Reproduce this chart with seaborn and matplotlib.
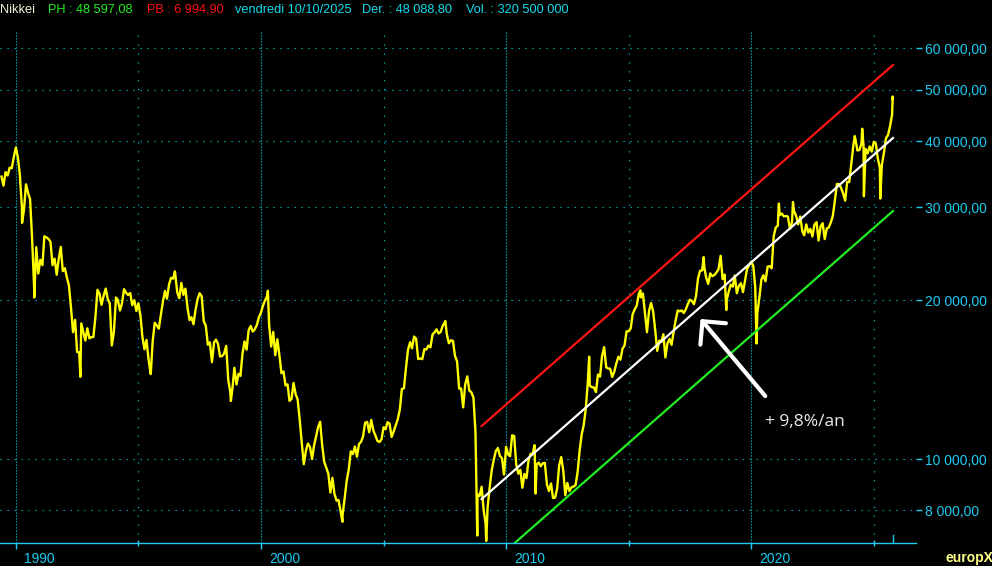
import matplotlib.pyplot as plt
from matplotlib.ticker import FixedLocator, NullLocator
from matplotlib.transforms import ScaledTranslation
import numpy as np
import pandas as pd
import seaborn as sns

# %% data: Nikkei monthly closes, May 1989 -> Sep 2025
close_1989_1999 = [
    34270, 32950, 34950, 34430, 35640, 35550, 37270, 38916,                         # 1989 May-Dec
    37190, 34590, 29980, 29585, 33130, 31940, 31036, 25978, 20984, 25194, 22455, 23849,  # 1990
    23293, 26409, 26292, 26111, 25790, 23291, 23961, 22336, 23916, 25222, 22688, 22984,  # 1991
    22023, 21339, 19346, 17391, 18348, 15952, 15910, 18061, 17399, 16767, 17684, 16925,  # 1992
    17024, 17023, 18591, 20919, 20552, 19591, 20380, 21027, 20106, 19703, 16408, 17417,  # 1993
    20229, 19997, 19112, 19725, 20974, 20644, 20449, 20629, 19564, 19990, 19077, 19723,  # 1994
    18650, 17053, 16140, 16807, 15437, 14518, 16678, 18117, 17913, 17655, 18744, 19868,  # 1995
    20813, 20125, 21407, 22042, 21956, 22531, 20693, 20167, 21556, 20467, 21020, 19361,  # 1996
    18330, 18557, 18003, 19151, 20069, 20605, 20331, 18229, 17888, 16459, 16636, 15259,  # 1997
    16628, 16832, 16527, 15641, 15671, 15830, 16379, 14108, 13406, 13565, 14884, 13842,  # 1998
    14499, 14368, 15837, 16702, 16112, 17530, 17862, 17437, 17605, 17943, 18558, 18934,  # 1999
]
close_2000_2009 = [
    19540, 19960, 20337, 17974, 16332, 17411, 15728, 16861, 15747, 14540, 14649, 13786,
    13844, 12884, 12999, 13935, 13262, 12969, 11861, 10714, 9775, 10367, 10697, 10543,
    9998, 10588, 11025, 11493, 11764, 10622, 9878, 9620, 9383, 8640, 9216, 8579,
    8340, 8363, 7973, 7831, 8425, 9083, 9563, 10344, 10219, 10560, 10101, 10677,
    10784, 11041, 11715, 11762, 11237, 11859, 11326, 11082, 10824, 10771, 10899, 11489,
    11388, 11741, 11669, 11009, 11277, 11584, 11900, 12414, 13574, 13607, 14872, 16111,
    16650, 16205, 17060, 16906, 15467, 15505, 15457, 16141, 16128, 16399, 16274, 17226,
    17383, 17604, 17288, 17400, 17876, 18138, 17249, 16569, 16786, 16737, 15681, 15308,
    13592, 13604, 12526, 13850, 14339, 13481, 13377, 13073, 11260, 8577, 8512, 8860,
    7994, 7568, 8110, 8828, 9523, 9958, 10357, 10493, 10133, 10035, 9346, 10546,
]
close_2010_2019 = [
    10198, 10126, 11090, 11057, 9769, 9383, 9537, 8824, 9369, 9202, 9937, 10229,
    10238, 10624, 9755, 9850, 9694, 9816, 9833, 8955, 8700, 8988, 8435, 8455,
    8803, 9723, 10084, 9521, 8543, 9007, 8695, 8840, 8870, 8928, 9446, 10395,
    11139, 11559, 12398, 13861, 13775, 13677, 13668, 13389, 14456, 14328, 15662, 16291,
    14915, 14841, 14828, 14304, 14632, 15162, 15621, 15425, 16174, 16414, 17460, 17451,
    17674, 18798, 19207, 19520, 20563, 20236, 20585, 18890, 17388, 19083, 19747, 19034,
    17518, 16027, 16759, 16666, 17235, 15576, 16569, 16887, 16450, 17425, 18308, 19114,
    19041, 19119, 18909, 19197, 19651, 20033, 19925, 19646, 20356, 22012, 22725, 22765,
    23098, 22068, 21454, 22468, 22202, 22305, 22554, 22865, 24120, 21920, 22351, 20015,
    20773, 21385, 21206, 22259, 20601, 21276, 21522, 20704, 21756, 22927, 23294, 23657,
]
close_2020_2025 = [
    23205, 21143, 18917, 20194, 21878, 22288, 21710, 23140, 23185, 22977, 26434, 27444,
    27664, 28966, 29179, 28813, 28860, 28792, 27284, 28090, 29453, 28893, 27822, 28792,
    27002, 26527, 27821, 26848, 27280, 26393, 27802, 28092, 25937, 27587, 27969, 26095,
    27327, 27446, 28041, 28856, 30888, 33189, 33172, 32619, 31858, 30859, 33487, 33464,
    36287, 39166, 40369, 38406, 38488, 39583, 39102, 38648, 37920, 39081, 38208, 39895,
    39572, 37156, 35618, 36045, 37965, 40487, 41070, 42718, 44933,
]
last_date = '2025-10-10'
last_close = 48088.80

# intra-month extremes visible as spikes
spike_dates = ['1990-04-02', '1990-10-01', '1992-08-18', '1995-07-03', '1996-06-26',
               '1998-10-09', '2000-04-12', '2003-04-28', '2007-07-09', '2008-10-27',
               '2009-03-10', '2011-03-15', '2013-05-22', '2015-06-24', '2018-01-23',
               '2018-10-02', '2018-12-25', '2020-03-19', '2021-02-16', '2021-09-14',
               '2024-03-22', '2024-07-11', '2024-08-05', '2025-04-07', '2025-10-09']
spike_values = [28002, 20222, 14309, 14485, 22666,
                12880, 20833, 7607, 18262, 7162,
                6995, 8605, 15627, 20868, 24124,
                24270, 19155, 16552, 30468, 30670,
                40888, 42224, 31458, 31136, 48597]

# regression channel (+9,8%/an)
trend_years = [2009.0, 2025.78]
trend_values = [8400, 40550]
channel_factor = 1.375

ytick_vals = [8000, 10000, 20000, 30000, 40000, 50000, 60000]
ytick_labels = ['8 000,00', '10 000,00', '20 000,00', '30 000,00', '40 000,00', '50 000,00', '60 000,00']
xtick_years = [1990, 2000, 2010, 2020]
xminor_years = [1995, 2005, 2015, 2025]

header = [('Nikkei', '#f4f4d8', 0), ('PH : 48 597,08', '#22ee22', 48), ('PB : 6 994,90', '#ff1010', 147),
          ('vendredi 10/10/2025', '#10dcf0', 235), ('Der. : 48 088,80', '#10dcf0', 362),
          ('Vol. : 320 500 000', '#10dcf0', 466)]

# %% build frame
def decyear(d):
    return d.year + (d.dayofyear - 1) / 365.25

closes = close_1989_1999 + close_2000_2009 + close_2010_2019 + close_2020_2025
months = pd.date_range('1989-05-31', periods=len(closes), freq='ME')
nk = pd.concat([
    pd.DataFrame({'year': np.asarray(decyear(months)), 'close': closes}),
    pd.DataFrame({'year': np.asarray(decyear(pd.to_datetime(spike_dates))), 'close': spike_values}),
    pd.DataFrame({'year': [decyear(pd.Timestamp(last_date))], 'close': [last_close]}),
]).sort_values('year').reset_index(drop=True)
last_year = nk['year'].iloc[-1]

# %% plot
plt.rcParams['font.family'] = ['Liberation Sans', 'DejaVu Sans']
gridc = '#00e0e8'
tickc = '#1ccbf2'

fig = plt.figure(figsize=(9.92, 5.66), dpi=100, facecolor='black')
ax = fig.add_axes([0, 23/566, 916/992, 513/566])
ax.set_facecolor('black')

sns.lineplot(data=nk, x='year', y='close', color='#ffff00', lw=1.7, estimator=None, sort=False, ax=ax)

tv = np.array(trend_values, dtype=float)
ax.plot(trend_years, tv * channel_factor, color='#ff1414', lw=1.6)
ax.plot(trend_years, tv, color='white', lw=1.6)
ax.plot(trend_years, tv / channel_factor, color='#22ee22', lw=1.6)

ax.set_yscale('log')
ax.set_ylim(6934, 64940)
ax.set_xlim(1989.35, 2026.72)
ax.set_xlabel('')
ax.set_ylabel('')

ax.yaxis.set_major_locator(FixedLocator(ytick_vals))
ax.yaxis.set_minor_locator(NullLocator())
ax.set_yticklabels(ytick_labels)
ax.yaxis.tick_right()
ax.tick_params(axis='y', which='major', colors=tickc, labelsize=10, length=4.5, width=1, pad=2)

ax.xaxis.set_major_locator(FixedLocator(xtick_years))
ax.xaxis.set_minor_locator(FixedLocator(xminor_years))
ax.set_xticklabels([str(y) for y in xtick_years], ha='left')
ax.tick_params(axis='x', which='major', colors=tickc, labelsize=10, length=4.5, width=1, pad=2)
ax.tick_params(axis='x', which='minor', colors=tickc, length=4, width=1, direction='inout')
for lab in ax.get_xticklabels():
    lab.set_transform(lab.get_transform() + ScaledTranslation(8/100, 0, fig.dpi_scale_trans))

ax.set_axisbelow(True)
ax.yaxis.grid(True, which='major', color=gridc, linestyle=(0, (1, 5.3)), linewidth=0.8)
ax.xaxis.grid(True, which='major', color=gridc, linestyle=(0, (1, 1.7)), linewidth=0.8)
ax.xaxis.grid(True, which='minor', color=gridc, linestyle=(0, (1, 7)), linewidth=0.8)

for s in ['top', 'left', 'right']:
    ax.spines[s].set_visible(False)
ax.spines['bottom'].set_color(tickc)
ax.spines['bottom'].set_linewidth(1)
ax.axvline(last_year, ymin=0, ymax=8/513, color=tickc, lw=1)

# arrow + annotation
ax.annotate('', xy=(2017.93, 18420), xytext=(2020.57, 13160),
            arrowprops=dict(arrowstyle='->,head_length=0.6,head_width=0.6', color='white',
                            lw=3, mutation_scale=20, shrinkA=0, shrinkB=0))
ax.text(2020.57, 11750, '+ 9,8%/an', color='#ececec', fontsize=12.5, family=['Open Sans', 'DejaVu Sans'],
        ha='left', va='center')

for txt, col, px in header:
    fig.text(px/992, 1 - 10/566, txt, color=col, fontsize=9.2, ha='left', va='center')
fig.text(946/992, 1 - 558/566, 'europX', color='#ffff88', fontsize=10, fontweight='bold', ha='left', va='center')

fig.savefig('out.png', dpi=100, facecolor='black')
